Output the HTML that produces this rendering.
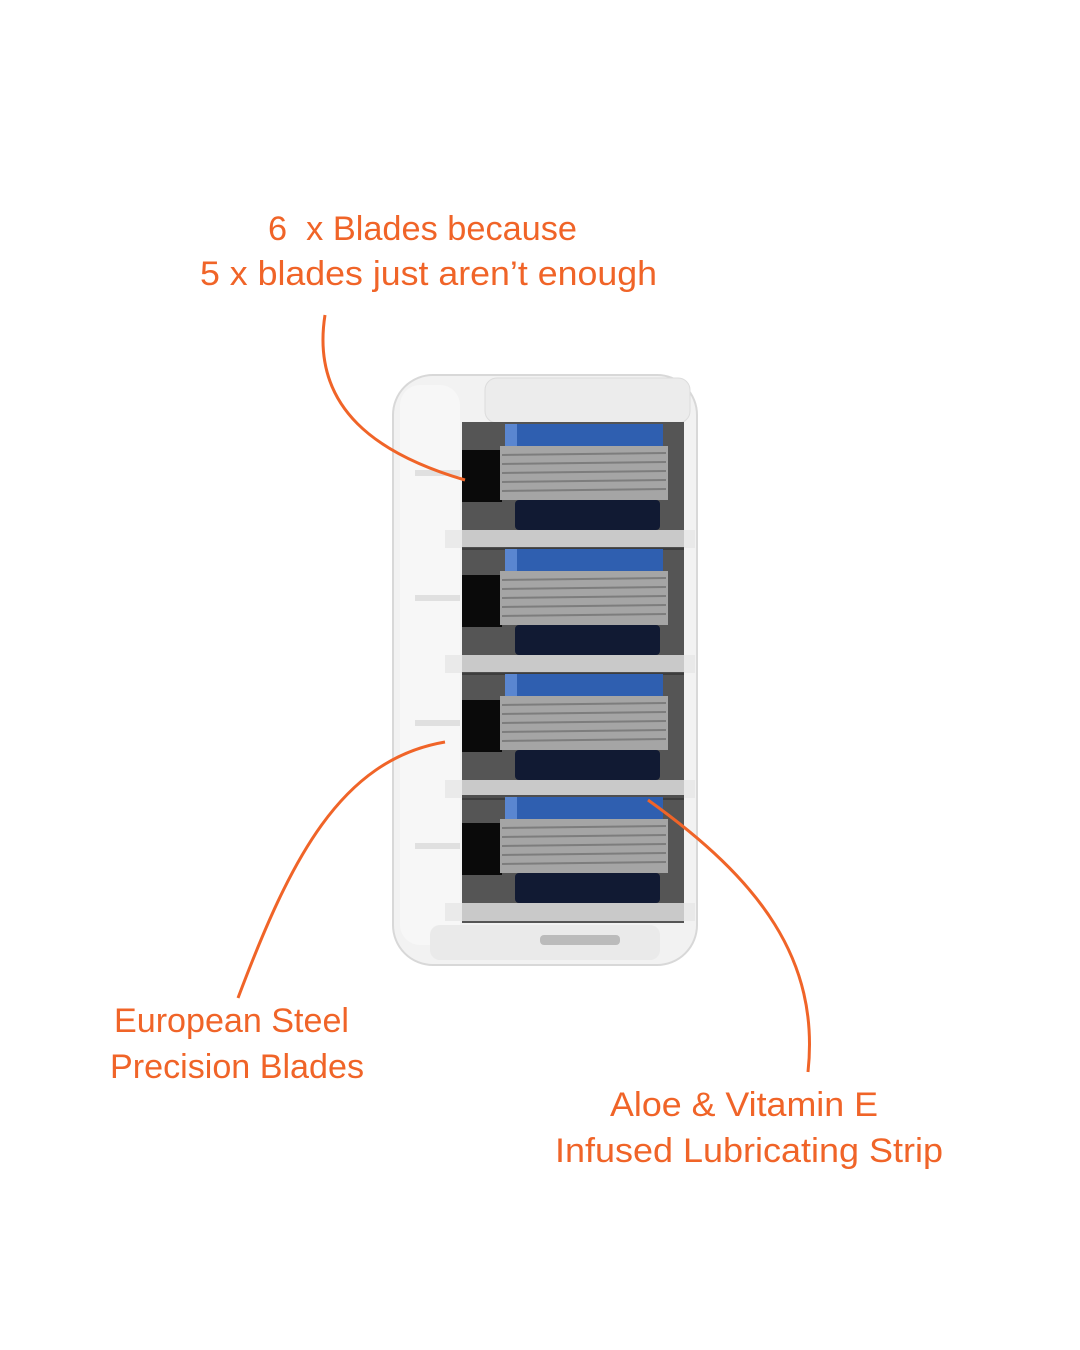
<!DOCTYPE html>
<html><head><meta charset="utf-8"><style>
html,body{margin:0;padding:0;background:#fff;}
svg{display:block;}
text{font-family:"Liberation Sans",sans-serif;font-size:34px;fill:#f06428;}
</style></head><body>
<svg width="1080" height="1350" viewBox="0 0 1080 1350" xmlns="http://www.w3.org/2000/svg">
<rect width="1080" height="1350" fill="#fff"/>
<rect x="393" y="375" width="304" height="590" rx="40" fill="#f2f2f2" stroke="#d8d8d8" stroke-width="2"/>
<rect x="400" y="385" width="60" height="560" rx="20" fill="#f7f7f7"/>
<rect x="485" y="378" width="205" height="45" rx="12" fill="#ececec" stroke="#dcdcdc"/>
<g id="c">
 <rect x="462" y="422" width="222" height="128" fill="#3a3a3a" opacity="0.85"/>
 <rect x="505" y="424" width="158" height="22" fill="#2f5fb0"/>
 <rect x="505" y="424" width="12" height="22" fill="#5a86d0"/>
 <rect x="462" y="450" width="40" height="52" fill="#0a0a0a"/>
 <rect x="500" y="446" width="168" height="54" fill="#a5a5a5"/>
 <g stroke="#7d7d7d" stroke-width="2">
  <line x1="502" y1="455" x2="666" y2="453"/><line x1="502" y1="464" x2="666" y2="462"/>
  <line x1="502" y1="473" x2="666" y2="471"/><line x1="502" y1="482" x2="666" y2="480"/>
  <line x1="502" y1="491" x2="666" y2="489"/>
 </g>
 <rect x="515" y="500" width="145" height="30" rx="4" fill="#111a33"/>
 <rect x="445" y="530" width="250" height="18" fill="#e6e6e6" opacity="0.8"/>
 <rect x="415" y="470" width="45" height="6" fill="#e0e0e0"/>
</g>
<use href="#c" y="125"/>
<use href="#c" y="250"/>
<use href="#c" y="373"/>
<rect x="430" y="925" width="230" height="35" rx="10" fill="#eaeaea"/>
<rect x="540" y="935" width="80" height="10" rx="4" fill="#bbb"/>
<g fill="none" stroke="#f06428" stroke-width="3">
<path d="M325,315 C310,410 380,455 465,480"/>
<path d="M238,998 C290,860 340,760 445,742"/>
<path d="M648,800 C760,880 820,960 808,1072"/>
</g>
<text x="268" y="240" textLength="309" lengthAdjust="spacingAndGlyphs">6&#160; x Blades because</text>
<text x="200" y="285" textLength="457" lengthAdjust="spacingAndGlyphs">5 x blades just aren’t enough</text>
<text x="114" y="1032" textLength="235" lengthAdjust="spacingAndGlyphs">European Steel</text>
<text x="110" y="1078" textLength="254" lengthAdjust="spacingAndGlyphs">Precision Blades</text>
<text x="610" y="1116" textLength="268" lengthAdjust="spacingAndGlyphs">Aloe &amp; Vitamin E</text>
<text x="555" y="1162" textLength="388" lengthAdjust="spacingAndGlyphs">Infused Lubricating Strip</text>
</svg>
</body></html>
